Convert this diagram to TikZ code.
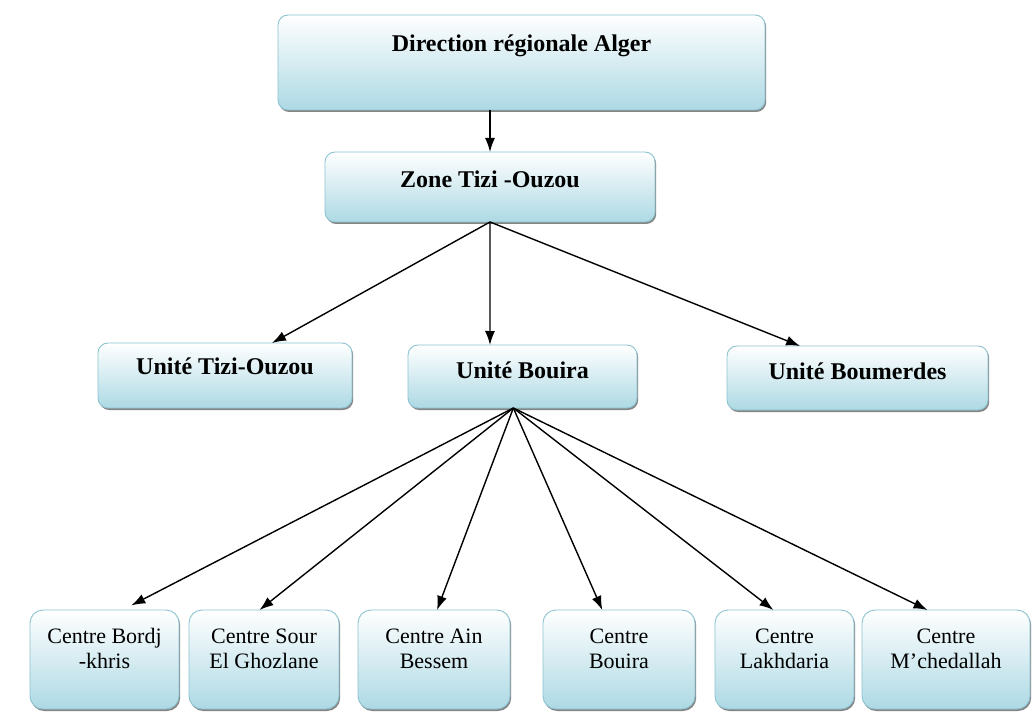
\documentclass[tikz,border=0pt]{standalone}
\usepackage{fontspec}
\setmainfont{Liberation Serif}
\usetikzlibrary{calc,positioning,shadows,arrows.meta}

\definecolor{boxblue}{HTML}{ADD9E4}
\definecolor{boxedge}{HTML}{8CC3D0}

\begin{document}
\begin{tikzpicture}[
  x=1pt, y=-1pt,
  every node/.style={anchor=north, inner xsep=0pt, inner ysep=0pt, outer sep=0pt},
  box/.style={
    rectangle,
    rounded corners=10pt,
    top color=white,
    bottom color=boxblue,
    draw=boxedge,
    line width=0.9pt,
    drop shadow={shadow xshift=1.2pt, shadow yshift=-2pt, fill=black!60, opacity=0.8},
    align=center
  },
  head box/.style={
    box,
    font=\fontsize{24}{28}\selectfont\bfseries
  },
  centre box/.style={
    box,
    rounded corners=13pt,
    text height=58pt, text depth=41pt,
    font=\fontsize{22}{25}\selectfont
  },
  link/.style={
    line width=1.4pt,
    -{Latex[length=14pt,width=10pt]}
  }
  ]
\useasboundingbox (0,0) rectangle (1036,727);
% Direction
\node [head box, minimum width=487pt, text height=37pt, text depth=58pt]
  (direction) at (521.5,15) {Direction régionale Alger};
% Zone
\node [head box, minimum width=330pt, text height=36pt, text depth=34pt]
  (zone) at (490,152) {Zone Tizi -Ouzou};
\draw [link] (zone.north |- direction.south) -- (zone.north);
% Unites
\node [head box, minimum width=254pt, text height=31pt, text depth=34pt]
  (unite tizi) at (225,343) {Unité Tizi-Ouzou};
\node [head box, minimum width=229pt, text height=33pt, text depth=30pt]
  (unite bouira) at (522.5,345) {Unité Bouira};
\node [head box, minimum width=261pt, text height=33pt, text depth=31pt]
  (unite boumerdes) at (857.5,346) {Unité Boumerdes};
\draw [link] (zone.south) -- ($(unite tizi.north west)!0.685!(unite tizi.north east)$);
\draw [link] (zone.south) -- ($(unite bouira.north west)!0.358!(unite bouira.north east)$);
\draw [link] (zone.south) -- ($(unite boumerdes.north west)!0.28!(unite boumerdes.north east)$);
% Centres
\node [centre box, minimum width=149pt] (centre bordj) at (104.5,610) {Centre Bordj\\ -khris};
\node [centre box, minimum width=150pt] (centre sour) at (264,610) {Centre Sour\\ El Ghozlane};
\node [centre box, minimum width=152pt] (centre ain) at (434,610) {Centre Ain\\ Bessem};
\node [centre box, minimum width=152pt] (centre bouira) at (619,610) {Centre\\ Bouira};
\node [centre box, minimum width=139pt] (centre lakhdaria) at (784.5,610) {Centre\\ Lakhdaria};
\node [centre box, minimum width=168pt] (centre mchedallah) at (946,610) {Centre\\ M’chedallah};
\coordinate (bouira out) at ($(unite bouira.south west)!0.46!(unite bouira.south east)$);
\draw [link, shorten >=10pt] (bouira out) -- ($(centre bordj.north west)!0.62!(centre bordj.north east)$);
\draw [link] (bouira out) -- ($(centre sour.north west)!0.47!(centre sour.north east)$);
\draw [link] (bouira out) -- ($(centre ain.north west)!0.52!(centre ain.north east)$);
\draw [link] (bouira out) -- ($(centre bouira.north west)!0.39!(centre bouira.north east)$);
\draw [link] (bouira out) -- ($(centre lakhdaria.north west)!0.42!(centre lakhdaria.north east)$);
\draw [link] (bouira out) -- ($(centre mchedallah.north west)!0.39!(centre mchedallah.north east)$);
\end{tikzpicture}
\end{document}
